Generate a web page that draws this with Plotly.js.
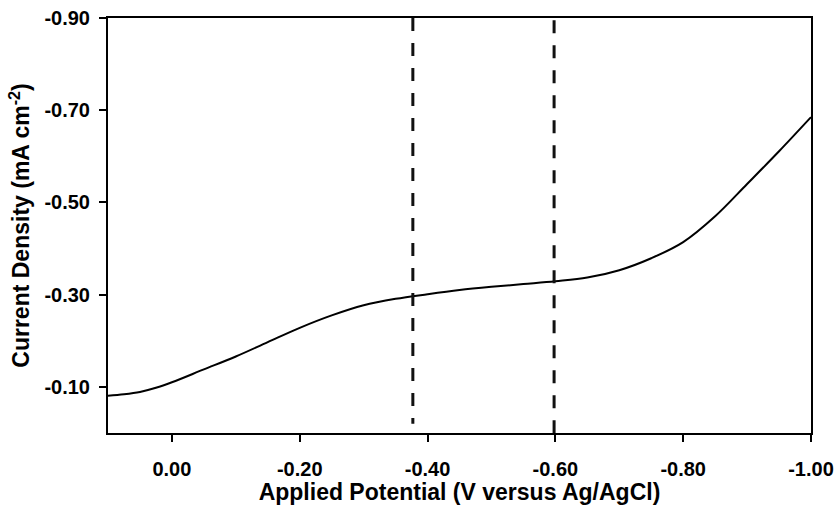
<!DOCTYPE html>
<html>
<head>
<meta charset="utf-8">
<script src="https://cdn.plot.ly/plotly-3.0.1.min.js"></script>
<style>html,body{margin:0;padding:0;background:#fff;}#chart{width:838px;height:505px;}</style>
</head>
<body>
<div id="chart"></div>
<script>
// Applied potential (V vs Ag/AgCl)
var potential = [0.10, 0.075, 0.05, 0.025, 0.00, -0.05, -0.10, -0.15, -0.20, -0.25, -0.30, -0.35, -0.40, -0.45, -0.50, -0.55, -0.60, -0.65, -0.70, -0.75, -0.80, -0.85, -0.90, -0.95, -1.00];
// Current density (mA cm^-2)
var currentDensity = [-0.081, -0.084, -0.089, -0.098, -0.110, -0.138, -0.166, -0.197, -0.228, -0.255, -0.277, -0.291, -0.301, -0.310, -0.317, -0.323, -0.329, -0.337, -0.353, -0.379, -0.414, -0.470, -0.540, -0.611, -0.685];
// Dashed marker positions
var markerPotentials = [-0.377, -0.598];
var markerSpans = [[-0.9, -0.02], [-0.895, 0]];

var xTicks = [0.0, -0.2, -0.4, -0.6, -0.8, -1.0];
var xTickLabels = ['0.00', '-0.20', '-0.40', '-0.60', '-0.80', '-1.00'];
var yTicks = [-0.9, -0.7, -0.5, -0.3, -0.1];
var yTickLabels = ['-0.90', '-0.70', '-0.50', '-0.30', '-0.10'];

var traces = [{
  x: potential, y: currentDensity, mode: 'lines', type: 'scatter',
  line: {color: '#000', width: 2, shape: 'spline', smoothing: 1},
  hoverinfo: 'skip', showlegend: false
}];
markerPotentials.forEach(function (v, i) {
  traces.push({
    x: [v, v], y: markerSpans[i], mode: 'lines', type: 'scatter',
    line: {color: '#111', width: 3, dash: '13px,12px'},
    hoverinfo: 'skip', showlegend: false
  });
});

var font = {family: '"Liberation Sans", Arial, sans-serif', color: '#000'};
var layout = {
  width: 838, height: 505,
  margin: {l: 108, r: 27, t: 18, b: 72},
  paper_bgcolor: '#fff', plot_bgcolor: '#fff',
  showlegend: false,
  xaxis: {
    range: [0.1, -1.0], tickvals: xTicks, ticktext: xTickLabels,
    showgrid: false, zeroline: false,
    showline: true, linecolor: '#000', linewidth: 2, mirror: true,
    ticks: 'outside', ticklen: 7, tickwidth: 2, tickcolor: '#000',
    ticklabelstandoff: 10,
    tickfont: Object.assign({}, font, {size: 20, weight: 'bold'}),
    title: {text: '<b>Applied Potential (V versus Ag/AgCl)</b>', font: Object.assign({}, font, {size: 23}), standoff: 4}
  },
  yaxis: {
    range: [0, -0.9], tickvals: yTicks, ticktext: yTickLabels,
    showgrid: false, zeroline: false,
    showline: true, linecolor: '#000', linewidth: 2, mirror: true,
    ticks: 'outside', ticklen: 7, tickwidth: 2, tickcolor: '#000',
    ticklabelstandoff: 5,
    tickfont: Object.assign({}, font, {size: 20, weight: 'bold'}),
    title: {text: '<b>Current Density (mA cm<sup>-2</sup>)</b>', font: Object.assign({}, font, {size: 23}), standoff: 8}
  }
};
Plotly.newPlot('chart', traces, layout, {staticPlot: true, displayModeBar: false});
</script>
</body>
</html>
